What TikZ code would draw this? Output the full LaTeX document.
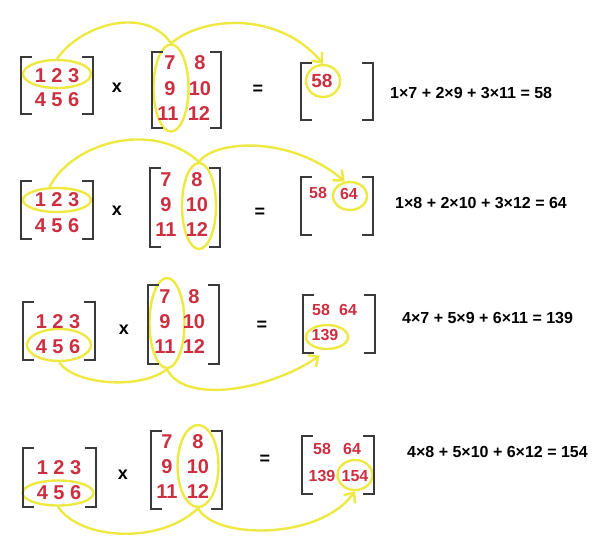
\documentclass[tikz,border=0pt]{standalone}
\usepackage{fontspec}
\setmainfont{Liberation Sans}
\usepackage{tikz}
\usetikzlibrary{arrows.meta,shapes.geometric}
\definecolor{numred}{HTML}{CC2F3F}
\definecolor{hlyellow}{HTML}{EEE842}
\definecolor{bracketgray}{HTML}{3A3A3A}

\begin{document}
\begin{tikzpicture}[x=1pt,y=-1pt,
    num/.style={text=numred,font=\bfseries\fontsize{20}{20}\selectfont,inner sep=0pt},
    res/.style={text=numred,font=\bfseries\fontsize{16}{16}\selectfont,inner sep=0pt},
    op/.style={font=\bfseries\fontsize{18}{18}\selectfont,inner sep=0pt},
    eqn/.style={anchor=west,font=\bfseries\fontsize{16}{16}\selectfont,inner sep=0pt},
    brk/.style={draw=bracketgray,line width=1.8pt},
    hl/.style={draw=hlyellow,line width=2.4pt,ellipse,inner sep=0pt},
    link/.style={draw=hlyellow,line width=2.4pt,-{Straight Barb[length=8pt,width=14pt]}}]
    \useasboundingbox (0,0) rectangle (595,555);
    % row 1: 1 2 3 times first column
    \node[hl,minimum width=68pt,minimum height=28pt] (ea1) at (57,74) {};
    \node[hl,minimum width=35pt,minimum height=87pt] (eb1) at (171,88) {};
    \node[hl,minimum width=34pt,minimum height=32pt] (ec1) at (323,81) {};
    \draw[brk] (32,57)--(21,57)--(21,114)--(32,114) (82,57)--(93,57)--(93,114)--(82,114);
    \draw[brk] (163,52)--(152,52)--(152,128)--(163,128) (210,52)--(221,52)--(221,128)--(210,128);
    \draw[brk] (312,63)--(301,63)--(301,120)--(312,120) (362,63)--(373,63)--(373,120)--(362,120);
    \node[num] (a1t) at (57,76) {1 2 3};
    \node[num] (a1b) at (57,100) {4 5 6};
    \node[op] (x1) at (117,88) {x};
    \node[num] (b1a) at (170,63) {7};
    \node[num] (b1b) at (200,63) {8};
    \node[num] (b1c) at (170,89) {9};
    \node[num] (b1d) at (200,89) {10};
    \node[num] (b1e) at (168,114) {11};
    \node[num] (b1f) at (199,114) {12};
    \node[op] (q1) at (258,90) {=};
    \node[num,font=\bfseries\fontsize{19}{19}\selectfont] (c1a) at (322,81) {58};
    \node[eqn] (eq1) at (390,93) {1×7 + 2×9 + 3×11 = 58};
    \draw[link] (ea1.north) .. controls (80,25) and (145,5) .. (eb1.north)
      .. controls (205,15) and (280,12) .. (ec1.north);
    % row 2: 1 2 3 times second column
    \node[hl,minimum width=68pt,minimum height=24pt] (ea2) at (57,200) {};
    \node[hl,minimum width=34pt,minimum height=86pt] (eb2) at (199,206) {};
    \node[hl,minimum width=34pt,minimum height=28pt] (ec2) at (350,196) {};
    \draw[brk] (32,181)--(21,181)--(21,239)--(32,239) (82,181)--(93,181)--(93,239)--(82,239);
    \draw[brk] (161,168)--(150,168)--(150,247)--(161,247) (209,168)--(220,168)--(220,247)--(209,247);
    \draw[brk] (312,177)--(301,177)--(301,235)--(312,235) (362,177)--(373,177)--(373,235)--(362,235);
    \node[num] (a2t) at (57,200) {1 2 3};
    \node[num] (a2b) at (57,226) {4 5 6};
    \node[op] (x2) at (117,211) {x};
    \node[num] (b2a) at (166,180) {7};
    \node[num] (b2b) at (197,180) {8};
    \node[num] (b2c) at (166,205) {9};
    \node[num] (b2d) at (197,205) {10};
    \node[num] (b2e) at (166,230) {11};
    \node[num] (b2f) at (197,230) {12};
    \node[op] (q2) at (260,213) {=};
    \node[res] (c2a) at (318,193) {58};
    \node[res] (c2b) at (349,194) {64};
    \node[eqn] (eq2) at (395,203) {1×8 + 2×10 + 3×12 = 64};
    \draw[link] (ea2.120) .. controls (70,145) and (150,118) .. (eb2.north)
      .. controls (215,140) and (290,135) .. (ec2.110);
    % row 3: 4 5 6 times first column
    \node[hl,minimum width=64pt,minimum height=32pt] (ea3) at (59,345) {};
    \node[hl,minimum width=35pt,minimum height=90pt] (eb3) at (167,323) {};
    \node[hl,minimum width=42pt,minimum height=24pt] (ec3) at (327,337) {};
    \draw[brk] (34,302)--(23,302)--(23,360)--(34,360) (84,302)--(95,302)--(95,360)--(84,360);
    \draw[brk] (159,285)--(148,285)--(148,364)--(159,364) (208,285)--(219,285)--(219,364)--(208,364);
    \draw[brk] (314,295)--(303,295)--(303,353)--(314,353) (364,295)--(375,295)--(375,353)--(364,353);
    \node[num] (a3t) at (58,322) {1 2 3};
    \node[num] (a3b) at (58,347) {4 5 6};
    \node[op] (x3) at (124,330) {x};
    \node[num] (b3a) at (165,297) {7};
    \node[num] (b3b) at (194,297) {8};
    \node[num] (b3c) at (165,322) {9};
    \node[num] (b3d) at (194,322) {10};
    \node[num] (b3e) at (165,347) {11};
    \node[num] (b3f) at (194,347) {12};
    \node[op] (q3) at (262,326) {=};
    \node[res] (c3a) at (321,310) {58};
    \node[res] (c3b) at (348,310) {64};
    \node[res] (c3c) at (325,335) {139};
    \node[eqn] (eq3) at (402,318) {4×7 + 5×9 + 6×11 = 139};
    \draw[link] (ea3.south) .. controls (75,385) and (140,390) .. (eb3.south)
      .. controls (185,405) and (270,390) .. ([yshift=-6pt]ec3.240);
    % row 4: 4 5 6 times second column
    \node[hl,minimum width=71pt,minimum height=25pt] (ea4) at (58,493) {};
    \node[hl,minimum width=41pt,minimum height=82pt] (eb4) at (198,466) {};
    \node[hl,minimum width=35pt,minimum height=30pt] (ec4) at (355,475) {};
    \draw[brk] (34,448)--(23,448)--(23,507)--(34,507) (85,448)--(96,448)--(96,507)--(85,507);
    \draw[brk] (162,431)--(151,431)--(151,509)--(162,509) (211,431)--(222,431)--(222,509)--(211,509);
    \draw[brk] (313,436)--(302,436)--(302,494)--(313,494) (363,436)--(374,436)--(374,494)--(363,494);
    \node[num] (a4t) at (59,468) {1 2 3};
    \node[num] (a4b) at (59,493) {4 5 6};
    \node[op] (x4) at (123,475) {x};
    \node[num] (b4a) at (167,442) {7};
    \node[num] (b4b) at (198,442) {8};
    \node[num] (b4c) at (167,467) {9};
    \node[num] (b4d) at (198,467) {10};
    \node[num] (b4e) at (167,492) {11};
    \node[num] (b4f) at (198,492) {12};
    \node[op] (q4) at (265,460) {=};
    \node[res] (c4a) at (322,449) {58};
    \node[res] (c4b) at (352,449) {64};
    \node[res] (c4c) at (322,476) {139};
    \node[res] (c4d) at (355,476) {154};
    \node[eqn] (eq4) at (407,452) {4×8 + 5×10 + 6×12 = 154};
    \draw[link] (ea4.south) .. controls (80,540) and (160,545) .. (eb4.south)
      .. controls (215,540) and (320,540) .. (ec4.south);
\end{tikzpicture}
\end{document}
